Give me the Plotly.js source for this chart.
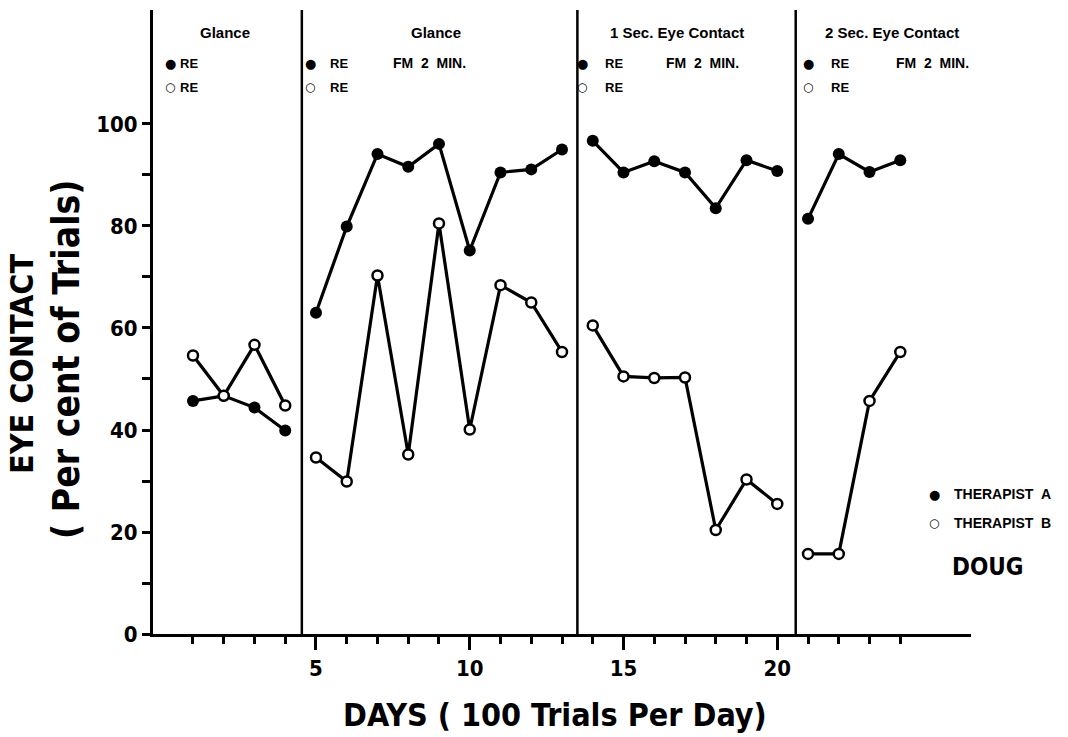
<!DOCTYPE html>
<html>
<head>
<meta charset="utf-8">
<script src="https://cdn.plot.ly/plotly-3.0.1.min.js"></script>
<style>html,body{margin:0;padding:0;background:#fff;}#chart{width:1068px;height:737px;}</style>
</head>
<body>
<div id="chart"></div>
<script>
// ---- data ----
const phaseDays = [
  [1, 2, 3, 4],
  [5, 6, 7, 8, 9, 10, 11, 12, 13],
  [14, 15, 16, 17, 18, 19, 20],
  [21, 22, 23, 24]
];
const therapistA = [
  [45.7, 46.7, 44.4, 39.9],
  [63.0, 79.9, 94.1, 91.6, 96.1, 75.2, 90.5, 91.1, 95.0],
  [96.7, 90.5, 92.7, 90.5, 83.5, 92.9, 90.8],
  [81.4, 94.1, 90.6, 92.9]
];
const therapistB = [
  [54.6, 46.7, 56.7, 44.8],
  [34.6, 29.9, 70.3, 35.2, 80.5, 40.1, 68.4, 65.0, 55.3],
  [60.5, 50.5, 50.2, 50.3, 20.4, 30.3, 25.5],
  [15.7, 15.7, 45.7, 55.3]
];
const phaseBreaks = [4.54, 13.5, 20.6];
const phaseTitles = ["Glance", "Glance", "1 Sec. Eye Contact", "2 Sec. Eye Contact"];
const phaseNotes = ["", "FM\u00A0\u00A02\u00A0\u00A0MIN.", "FM\u00A0\u00A02\u00A0\u00A0MIN.", "FM\u00A0\u00A02\u00A0\u00A0MIN."];
const majorX = [5, 10, 15, 20];
const minorX = [1, 2, 3, 4, 6, 7, 8, 9, 11, 12, 13, 14, 16, 17, 18, 19, 21, 22, 23, 24];
const majorY = [0, 20, 40, 60, 80, 100];
const minorY = [10, 30, 50, 70, 90];

// ---- layout helpers ----
const L = 153, R = 97, T = 10, B = 103, W = 1068, H = 737;
const pw = W - L - R, ph = H - T - B;
const px = v => (v - L) / pw;
const py = v => (H - B - v) / ph;
const narrow = "'DejaVu Sans Condensed', 'Liberation Sans Narrow', 'DejaVu Sans', sans-serif";
const sans = "'Liberation Sans', Arial, sans-serif";
const nf = (size, extra) => Object.assign({family: narrow, size: size, color: '#000', weight: 'bold', stretch: 'condensed'}, extra || {});
const sf = (size) => ({family: sans, size: size, color: '#000', weight: 'bold'});

const traces = [];
for (let i = 0; i < phaseDays.length; i++) {
  traces.push({
    x: phaseDays[i], y: therapistA[i], type: 'scatter', mode: 'lines+markers',
    line: {color: '#000', width: 3.2},
    marker: {symbol: 'circle', size: 12, color: '#000', line: {color: '#000', width: 0}},
    showlegend: false, hoverinfo: 'x+y'
  });
}
for (let i = 0; i < phaseDays.length; i++) {
  traces.push({
    x: phaseDays[i], y: therapistB[i], type: 'scatter', mode: 'lines+markers',
    line: {color: '#000', width: 3.2},
    marker: {symbol: 'circle', size: 10, color: '#fff', line: {color: '#000', width: 2.5}},
    showlegend: false, hoverinfo: 'x+y'
  });
}

const shapes = phaseBreaks.map(b => ({
  type: 'line', xref: 'x', yref: 'paper', x0: b, x1: b, y0: 0, y1: 1,
  line: {color: '#000', width: 2.5}
}));

const headerX = [225, 436, 677, 892];
const markerX = [170, 310, 582, 808];
const reX = [189, 339, 614, 840];
const noteX = [0, 429, 702, 932];
const annotations = [];
const ann = (x, y, text, font, extra) => annotations.push(Object.assign({
  xref: 'paper', yref: 'paper', x: px(x), y: py(y), text: text, showarrow: false,
  xanchor: 'center', yanchor: 'middle', font: font}, extra || {}));
for (let i = 0; i < 4; i++) {
  ann(headerX[i], 33, phaseTitles[i], sf(15));
  ann(markerX[i], 63, '●', {family: "'DejaVu Sans'", size: 13, color: '#000'});
  ann(markerX[i], 87, '○', {family: "'DejaVu Sans'", size: 12, color: '#000', weight: 'bold'});
  ann(reX[i], 63, 'RE', sf(13));
  ann(reX[i], 87, 'RE', sf(13));
  if (phaseNotes[i]) ann(noteX[i], 63, phaseNotes[i], sf(14));
}
// right legend
ann(934, 494, '●', {family: "'DejaVu Sans'", size: 13, color: '#000'});
ann(934, 523, '○', {family: "'DejaVu Sans'", size: 12, color: '#000', weight: 'bold'});
ann(952, 494, 'THERAPIST\u00A0\u00A0A', sf(14), {xanchor: 'left'});
ann(952, 523, 'THERAPIST\u00A0\u00A0B', sf(14), {xanchor: 'left'});
ann(988, 567, 'DOUG', nf(24));
// axis titles
ann(22, 364, 'EYE CONTACT', nf(32), {textangle: -90});
ann(66, 359, '( Per cent of Trials)', nf(37), {textangle: -90});
ann(555, 715, 'DAYS ( 100 Trials Per Day)', nf(32));

const layout = {
  width: W, height: H,
  margin: {l: L, r: R, t: T, b: B, pad: 0},
  paper_bgcolor: '#fff', plot_bgcolor: '#fff',
  showlegend: false,
  xaxis: {
    range: [-0.3, 26.3], showgrid: false, zeroline: false,
    showline: true, linecolor: '#000', linewidth: 3,
    tickmode: 'array', tickvals: majorX, ticktext: majorX.map(String),
    ticks: 'outside', ticklen: 13, tickwidth: 3, tickcolor: '#000',
    tickfont: nf(22),
    minor: {tickmode: 'array', tickvals: minorX, ticks: 'outside', ticklen: 7, tickwidth: 3, tickcolor: '#000', showgrid: false}
  },
  yaxis: {
    range: [0, 122.35], showgrid: false, zeroline: false,
    showline: true, linecolor: '#000', linewidth: 3,
    tickmode: 'array', tickvals: majorY, ticktext: majorY.map(String),
    ticks: 'outside', ticklen: 8, tickwidth: 3, tickcolor: '#000',
    tickfont: nf(22),
    minor: {tickmode: 'array', tickvals: minorY, ticks: 'outside', ticklen: 8, tickwidth: 3, tickcolor: '#000', showgrid: false}
  },
  shapes: shapes,
  annotations: annotations
};

Plotly.newPlot('chart', traces, layout, {staticPlot: true, displayModeBar: false});
</script>
</body>
</html>
